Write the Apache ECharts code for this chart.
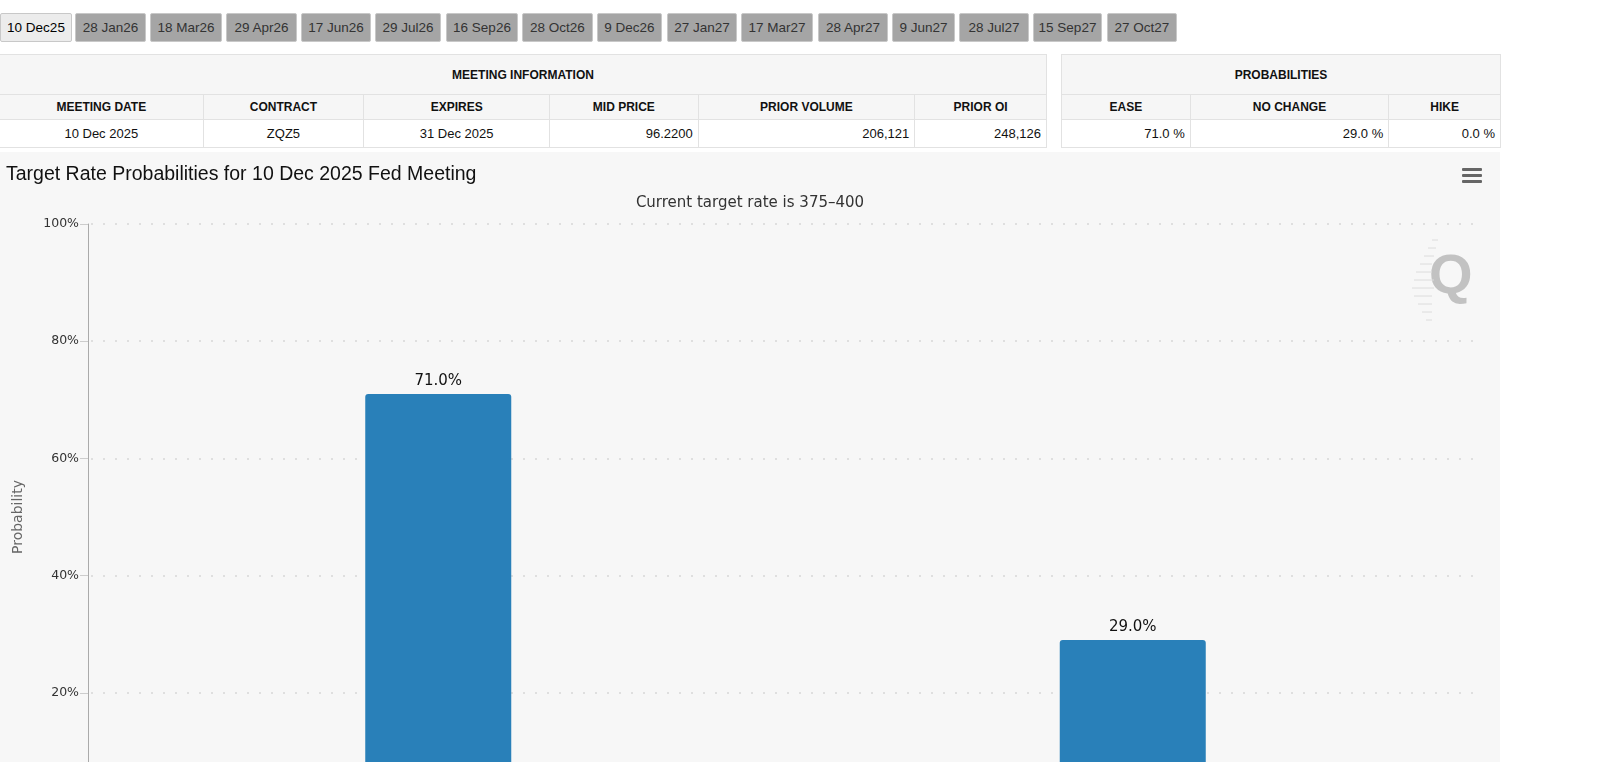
<!DOCTYPE html>
<html>
<head>
<meta charset="utf-8">
<script src="https://cdn.jsdelivr.net/npm/echarts@6/dist/echarts.min.js"></script>
<style>
html,body{margin:0;padding:0;background:#fff;overflow:hidden;font-family:"Liberation Sans",Arial,sans-serif;}
#tabs{position:absolute;left:0;top:13px;height:29px;white-space:nowrap;}
.tab{position:absolute;top:0;height:27px;line-height:27px;text-align:center;font-size:13.5px;color:#333;background:#a5a5a5;border:1px solid #c8c8c8;border-radius:2px;box-sizing:content-box;}
.tab.active{background:#ececec;color:#000;}
table{position:absolute;border-collapse:collapse;font-size:13px;color:#111;}
td{border:1px solid #e2e2e2;padding:0 5px;box-sizing:border-box;}
.h0 td{background:#f6f6f6;font-weight:bold;font-size:12px;text-align:center;height:40px;}
.h1 td{background:#f6f6f6;font-weight:bold;font-size:12px;text-align:center;height:25px;}
.d td{background:#fff;height:28px;}
.c{text-align:center}.r{text-align:right}
#chart{position:absolute;left:0;top:152px;width:1500px;height:718px;background:#f7f7f7;}
</style>
</head>
<body>
<div id="tabs"></div>
<table id="t1" style="left:-1px;top:54px;width:1048px;"></table>
<table id="t2" style="left:1061px;top:54px;width:440px;"></table>
<div id="chart"></div>
<script>
// ---- data ----
const tabLabels = ["10 Dec25","28 Jan26","18 Mar26","29 Apr26","17 Jun26","29 Jul26","16 Sep26","28 Oct26","9 Dec26","27 Jan27","17 Mar27","28 Apr27","9 Jun27","28 Jul27","15 Sep27","27 Oct27"];
const meetingHeaders = ["MEETING DATE","CONTRACT","EXPIRES","MID PRICE","PRIOR VOLUME","PRIOR OI"];
const meetingValues = ["10 Dec 2025","ZQZ5","31 Dec 2025","96.2200","206,121","248,126"];
const probHeaders = ["EASE","NO CHANGE","HIKE"];
const probValues = ["71.0 %","29.0 %","0.0 %"];
const categories = ["325-350","350-375"];
const probabilities = [71.0, 29.0];

// ---- layout helpers (positions only) ----
const tabX = [0,75,150,226,301,375,446,522,597,667,741,818,892,959,1033,1107];
const tabW = [70,69,70,69,68,64,70,69,63,68,70,68,61,68,67,68];
const tabs = document.getElementById('tabs');
tabLabels.forEach((t,i)=>{
  const d=document.createElement('div');
  d.className='tab'+(i===0?' active':'');
  d.style.left=tabX[i]+'px'; d.style.width=tabW[i]+'px';
  d.textContent=t; tabs.appendChild(d);
});
const mW=[204,161,186,149,217,132];
const mAlign=['c','c','c','r','r','r'];
let h='<tr class="h0"><td colspan="6">MEETING INFORMATION</td></tr><tr class="h1">';
meetingHeaders.forEach((x,i)=>h+='<td style="width:'+mW[i]+'px">'+x+'</td>');
h+='</tr><tr class="d">';
meetingValues.forEach((x,i)=>h+='<td class="'+mAlign[i]+'">'+x+'</td>');
h+='</tr>';
document.getElementById('t1').innerHTML=h;
const pW=[129,199,112];
h='<tr class="h0"><td colspan="3">PROBABILITIES</td></tr><tr class="h1">';
probHeaders.forEach((x,i)=>h+='<td style="width:'+pW[i]+'px">'+x+'</td>');
h+='</tr><tr class="d">';
probValues.forEach(x=>h+='<td class="r">'+x+'</td>');
h+='</tr>';
document.getElementById('t2').innerHTML=h;

// ---- chart ----
const wmLines = [[1432,88,6],[1428,96,8],[1424,104,10],[1420,112,12],[1416,120,16],[1414,128,20],[1412,136,22],[1414,144,18],[1418,152,14],[1422,160,10],[1426,168,6]];
const graphics = [
  {type:'rect',left:1462,top:16,shape:{width:20,height:3,r:1},style:{fill:'#666'}},
  {type:'rect',left:1462,top:22,shape:{width:20,height:3,r:1},style:{fill:'#666'}},
  {type:'rect',left:1462,top:28,shape:{width:20,height:3,r:1},style:{fill:'#666'}},
  {type:'text',left:1429,top:98,style:{text:'Q',fill:'#c2c2c2',font:'bold 56px "Liberation Sans", Arial'}}
];
wmLines.forEach(l=>graphics.push({type:'line',shape:{x1:l[0],y1:l[1],x2:l[0]+l[2],y2:l[1]},style:{stroke:'#dcdcdc',lineWidth:1}}));
const chart = echarts.init(document.getElementById('chart'));
chart.setOption({
  backgroundColor:'#f7f7f7',
  animation:false,
  title:[
    {text:'Target Rate Probabilities for 10 Dec 2025 Fed Meeting',left:1,top:8,
     textStyle:{fontFamily:'Liberation Sans, Arial',fontSize:19.5,fontWeight:'normal',color:'#111'}},
    {text:'Current target rate is 375–400',left:'center',top:39,
     textStyle:{fontFamily:'DejaVu Sans',fontSize:15,fontWeight:'normal',color:'#333'}}
  ],
  graphic:graphics,
  grid:{left:91,right:20,top:72,bottom:60,containLabel:false},
  xAxis:{type:'category',data:categories,
    axisLine:{lineStyle:{color:'#ccc'}},axisTick:{show:false},
    axisLabel:{color:'#333',fontSize:12}},
  yAxis:{type:'value',min:0,max:100,interval:20,offset:3,
    name:'Probability',nameLocation:'middle',nameGap:63,
    nameTextStyle:{color:'#666',fontSize:14,fontFamily:'DejaVu Sans'},
    axisLine:{show:true,lineStyle:{color:'#aaa',width:1}},
    axisTick:{show:true,length:8,lineStyle:{color:'#ccc'}},
    axisLabel:{formatter:'{value}%',color:'#333',fontSize:12.5,fontFamily:'DejaVu Sans',margin:9},
    splitLine:{show:true,lineStyle:{color:'#d8d8d8',type:[2,10],width:1.5}}},
  series:[{type:'bar',data:probabilities,barWidth:146,
    itemStyle:{color:'#2980b9',borderRadius:[3,3,0,0]},
    label:{show:true,position:'top',distance:5,formatter:p=>p.value.toFixed(1)+'%',
      color:'#111',fontSize:15,fontFamily:'DejaVu Sans'}}]
});
</script>
</body>
</html>
